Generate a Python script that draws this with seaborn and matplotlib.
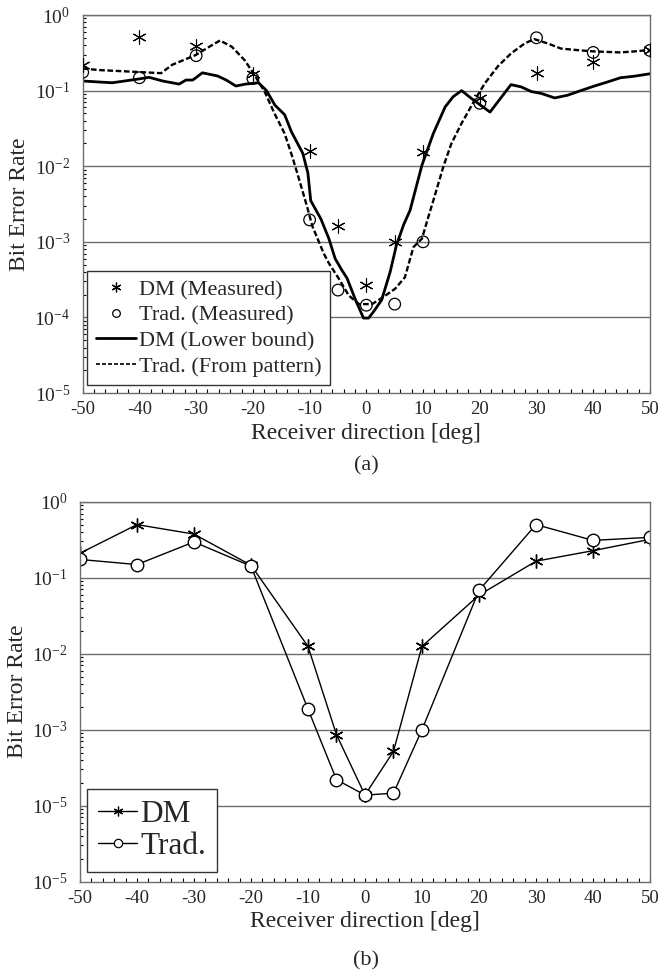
import numpy as np
import matplotlib
matplotlib.use("Agg")
import matplotlib.pyplot as plt
from matplotlib.lines import Line2D
from matplotlib.ticker import MultipleLocator, LogLocator, NullFormatter
import seaborn as sns

# --- data --------------------------------------------------------------
ANGLES = [-50, -40, -30, -20, -10, -5, 0, 5, 10, 20, 30, 40, 50]

# panel (a)
dm_meas_a   = [0.22, 0.51, 0.39, 0.165, 0.016, 1.6e-3, 2.7e-4, 1.0e-3, 0.0155, 0.08, 0.17, 0.24, 0.34]
trad_meas_a = [0.175, 0.148, 0.29, 0.145, 1.95e-3, 2.3e-4, 1.45e-4, 1.5e-4, 1.0e-3, 0.068, 0.50, 0.32, 0.34]

dm_bound_x = [-50, -47.1, -44.8, -40, -38.3, -35.9, -33, -31.8, -30.6, -28.9, -26.2, -24.7, -23,
              -21.3, -19, -17.6, -16.1, -14.4, -13.2, -11.2, -10.3, -9.8, -8, -6.6, -5.5, -4.3,
              -3.4, -1.9, -0.5, 0.4, 1.3, 2.7, 4.2, 5.3, 6.6, 7.7, 8.7, 9.8, 11.8, 13.9, 15.3,
              16.8, 18.5, 21.8, 25.5, 27.3, 29.1, 30.8, 33.2, 35.5, 37.8, 40.2, 42.5, 44.8, 47.2, 50]
dm_bound_y = [0.134, 0.13, 0.127, 0.143, 0.15, 0.134, 0.122, 0.138, 0.138, 0.172, 0.156, 0.138, 0.115,
              0.122, 0.127, 0.10, 0.064, 0.048, 0.0285, 0.0148, 0.0081, 3.5e-3, 2.0e-3, 1.1e-3, 6e-4, 4.2e-4,
              3.3e-4, 1.7e-4, 9.8e-5, 9.8e-5, 1.2e-4, 1.7e-4, 4.0e-4, 9e-4, 1.7e-3, 2.6e-3, 5e-3, 0.0103, 0.027, 0.061, 0.083,
              0.1, 0.079, 0.052, 0.12, 0.112, 0.097, 0.092, 0.08, 0.087, 0.1, 0.115, 0.13, 0.148, 0.155, 0.167]

trad_pat_x = [-50, -47.1, -40, -36.2, -34.2, -30.1, -27.2, -25.8, -23.7, -21.4, -19.7, -17.9, -16.2,
              -14.4, -13, -11.8, -10.6, -9.5, -7.5, -6.6, -4.9, -3.1, -1.3, 1.0, 2.7, 5.1, 6.8, 8.3,
              9.8, 10.9, 11.8, 13.6, 15, 16.8, 19.1, 20.9, 23.2, 25.5, 27.9, 29.6, 32, 34.3, 37.8,
              40.2, 44.8, 47.2, 50]
trad_pat_y = [0.196, 0.187, 0.176, 0.17, 0.22, 0.295, 0.40, 0.46, 0.38, 0.25, 0.16, 0.096, 0.05,
              0.027, 0.013, 0.0065, 0.0032, 1.6e-3, 7e-4, 5.2e-4, 3.3e-4, 1.95e-4, 1.5e-4, 1.5e-4, 1.8e-4, 2.4e-4, 3.4e-4, 8.5e-4,
              1.1e-3, 2.1e-3, 3.5e-3, 0.01, 0.02, 0.037, 0.075, 0.125, 0.21, 0.31, 0.42, 0.48, 0.42, 0.36, 0.34,
              0.33, 0.32, 0.33, 0.345]

# panel (b)
dm_b   = [0.21, 0.50, 0.375, 0.146, 0.0125, 8.6e-4, 1.38e-4, 5.2e-4, 0.0125, 0.059, 0.165, 0.227, 0.32]
trad_b = [0.174, 0.149, 0.296, 0.142, 1.87e-3, 2.2e-4, 1.38e-4, 1.46e-4, 1.0e-3, 0.068, 0.50, 0.31, 0.34]

YTICKS = [1e0, 1e-1, 1e-2, 1e-3, 1e-4, 1e-5]
YLABELS_A = ["$10^{0}$", "$10^{-1}$", "$10^{-2}$", "$10^{-3}$", "$10^{-4}$", "$10^{-5}$"]
YLABELS_B = ["$10^{0}$", "$10^{-1}$", "$10^{-2}$", "$10^{-3}$", "$10^{-5}$", "$10^{-5}$"]
XTICKS = list(range(-50, 51, 10))

# --- style ---------------------------------------------------------------
sns.set_style("white")
plt.rcParams["font.family"] = ["Liberation Serif", "DejaVu Serif"]
plt.rcParams["mathtext.fontset"] = "custom"
plt.rcParams["mathtext.rm"] = "Liberation Serif"
plt.rcParams["mathtext.it"] = "Liberation Serif:italic"

ASTER = (6, 2, 0)
GREY = "#6e6e6e"

fig = plt.figure(figsize=(6.6, 9.75), dpi=100)
ax_a = fig.add_axes([0.1253, 0.5969, 0.8595, 0.3877])
ax_b = fig.add_axes([0.1212, 0.0957, 0.8636, 0.3897])


def style_axes(ax, ylabels):
    ax.set_yscale("log")
    ax.set_xlim(-50, 50)
    ax.set_ylim(1e-5, 1)
    ax.set_yticks(YTICKS)
    ax.set_yticklabels(ylabels)
    ax.yaxis.set_minor_locator(LogLocator(base=10, subs=np.arange(2, 10)))
    ax.yaxis.set_minor_formatter(NullFormatter())
    ax.set_xticks(XTICKS)
    ax.set_xticklabels([str(v) for v in XTICKS])
    ax.xaxis.set_minor_locator(MultipleLocator(2))
    ax.tick_params(axis="both", which="both", direction="in", color="k", width=0.8)
    ax.tick_params(axis="x", which="major", length=3, labelsize=13.5, pad=6)
    ax.tick_params(axis="x", which="minor", length=3)
    ax.tick_params(axis="y", which="major", length=0, labelsize=14, pad=9)
    ax.tick_params(axis="y", which="minor", length=2)
    ax.tick_params(left=True, bottom=True, which="both")
    for y in YTICKS[:-1]:
        ax.axhline(y, color=GREY, lw=1.0, zorder=0)
    for s in ax.spines.values():
        s.set_color(GREY)
        s.set_linewidth(1.0)
    ax.set_ylabel("Bit Error Rate", fontsize=17, labelpad=3)
    ax.set_xlabel("Receiver direction [deg]", fontsize=17, labelpad=3)


# --- panel (a) ----------------------------------------------------------
sns.lineplot(x=dm_bound_x, y=dm_bound_y, ax=ax_a, color="k", linewidth=2.0,
             estimator=None, sort=False)
sns.lineplot(x=trad_pat_x, y=trad_pat_y, ax=ax_a, color="k", linewidth=1.7,
             estimator=None, sort=False)
ax_a.lines[-1].set_dashes((2.4, 1.1))
sns.scatterplot(x=ANGLES, y=dm_meas_a, ax=ax_a, marker=ASTER, s=90, color="k",
                linewidth=0.8, zorder=4)
ax_a.scatter(ANGLES, trad_meas_a, marker="o", s=70, facecolors="none",
             edgecolors="k", linewidths=0.9, zorder=4)
style_axes(ax_a, YLABELS_A)

handles_a = [
    Line2D([], [], ls="none", marker=ASTER, ms=7, color="k", mew=0.9),
    Line2D([], [], ls="none", marker="o", ms=5.5, mfc="none", mec="k", mew=0.9),
    Line2D([], [], color="k", lw=2.0),
    Line2D([], [], color="k", lw=1.2, dashes=(2.4, 1.2)),
]
leg_a = ax_a.legend(handles_a, ["DM (Measured)", "Trad. (Measured)",
                                "DM (Lower bound)", "Trad. (From pattern)"],
                    loc="lower left", bbox_to_anchor=(0.007, 0.02), borderaxespad=0,
                    fontsize=16, handlelength=1.8, handletextpad=0.15,
                    labelspacing=0.22, borderpad=0.4, fancybox=False, framealpha=1)
leg_a.get_frame().set_edgecolor("#333333")
leg_a.get_frame().set_linewidth(1.0)

# --- panel (b) ----------------------------------------------------------
sns.lineplot(x=ANGLES, y=dm_b, ax=ax_b, color="k", linewidth=1.0, marker=ASTER,
             markersize=10, markeredgecolor="k", markeredgewidth=1.0,
             estimator=None, sort=False)
sns.lineplot(x=ANGLES, y=trad_b, ax=ax_b, color="k", linewidth=1.0, marker="o",
             markersize=9, markerfacecolor="white", markeredgecolor="k",
             markeredgewidth=1.0, estimator=None, sort=False)
style_axes(ax_b, YLABELS_B)

handles_b = [
    Line2D([], [], color="k", lw=1.0, marker=ASTER, ms=7, mew=0.9),
    Line2D([], [], color="k", lw=1.0, marker="o", ms=6, mfc="white", mec="k", mew=0.9),
]
leg_b = ax_b.legend(handles_b, ["DM", "Trad."], loc="lower left",
                    bbox_to_anchor=(0.013, 0.025), borderaxespad=0, fontsize=22.5,
                    handlelength=1.25, handletextpad=0.1, labelspacing=0.12,
                    borderpad=0.35, fancybox=False, framealpha=1)
leg_b.get_frame().set_edgecolor("#333333")
leg_b.get_frame().set_linewidth(1.0)

fig.text(0.555, 1 - 466 / 975, "(a)", ha="center", va="center", fontsize=16)
fig.text(0.555, 1 - 961 / 975, "(b)", ha="center", va="center", fontsize=16)

fig.savefig("out.png", dpi=100)
plt.close(fig)
